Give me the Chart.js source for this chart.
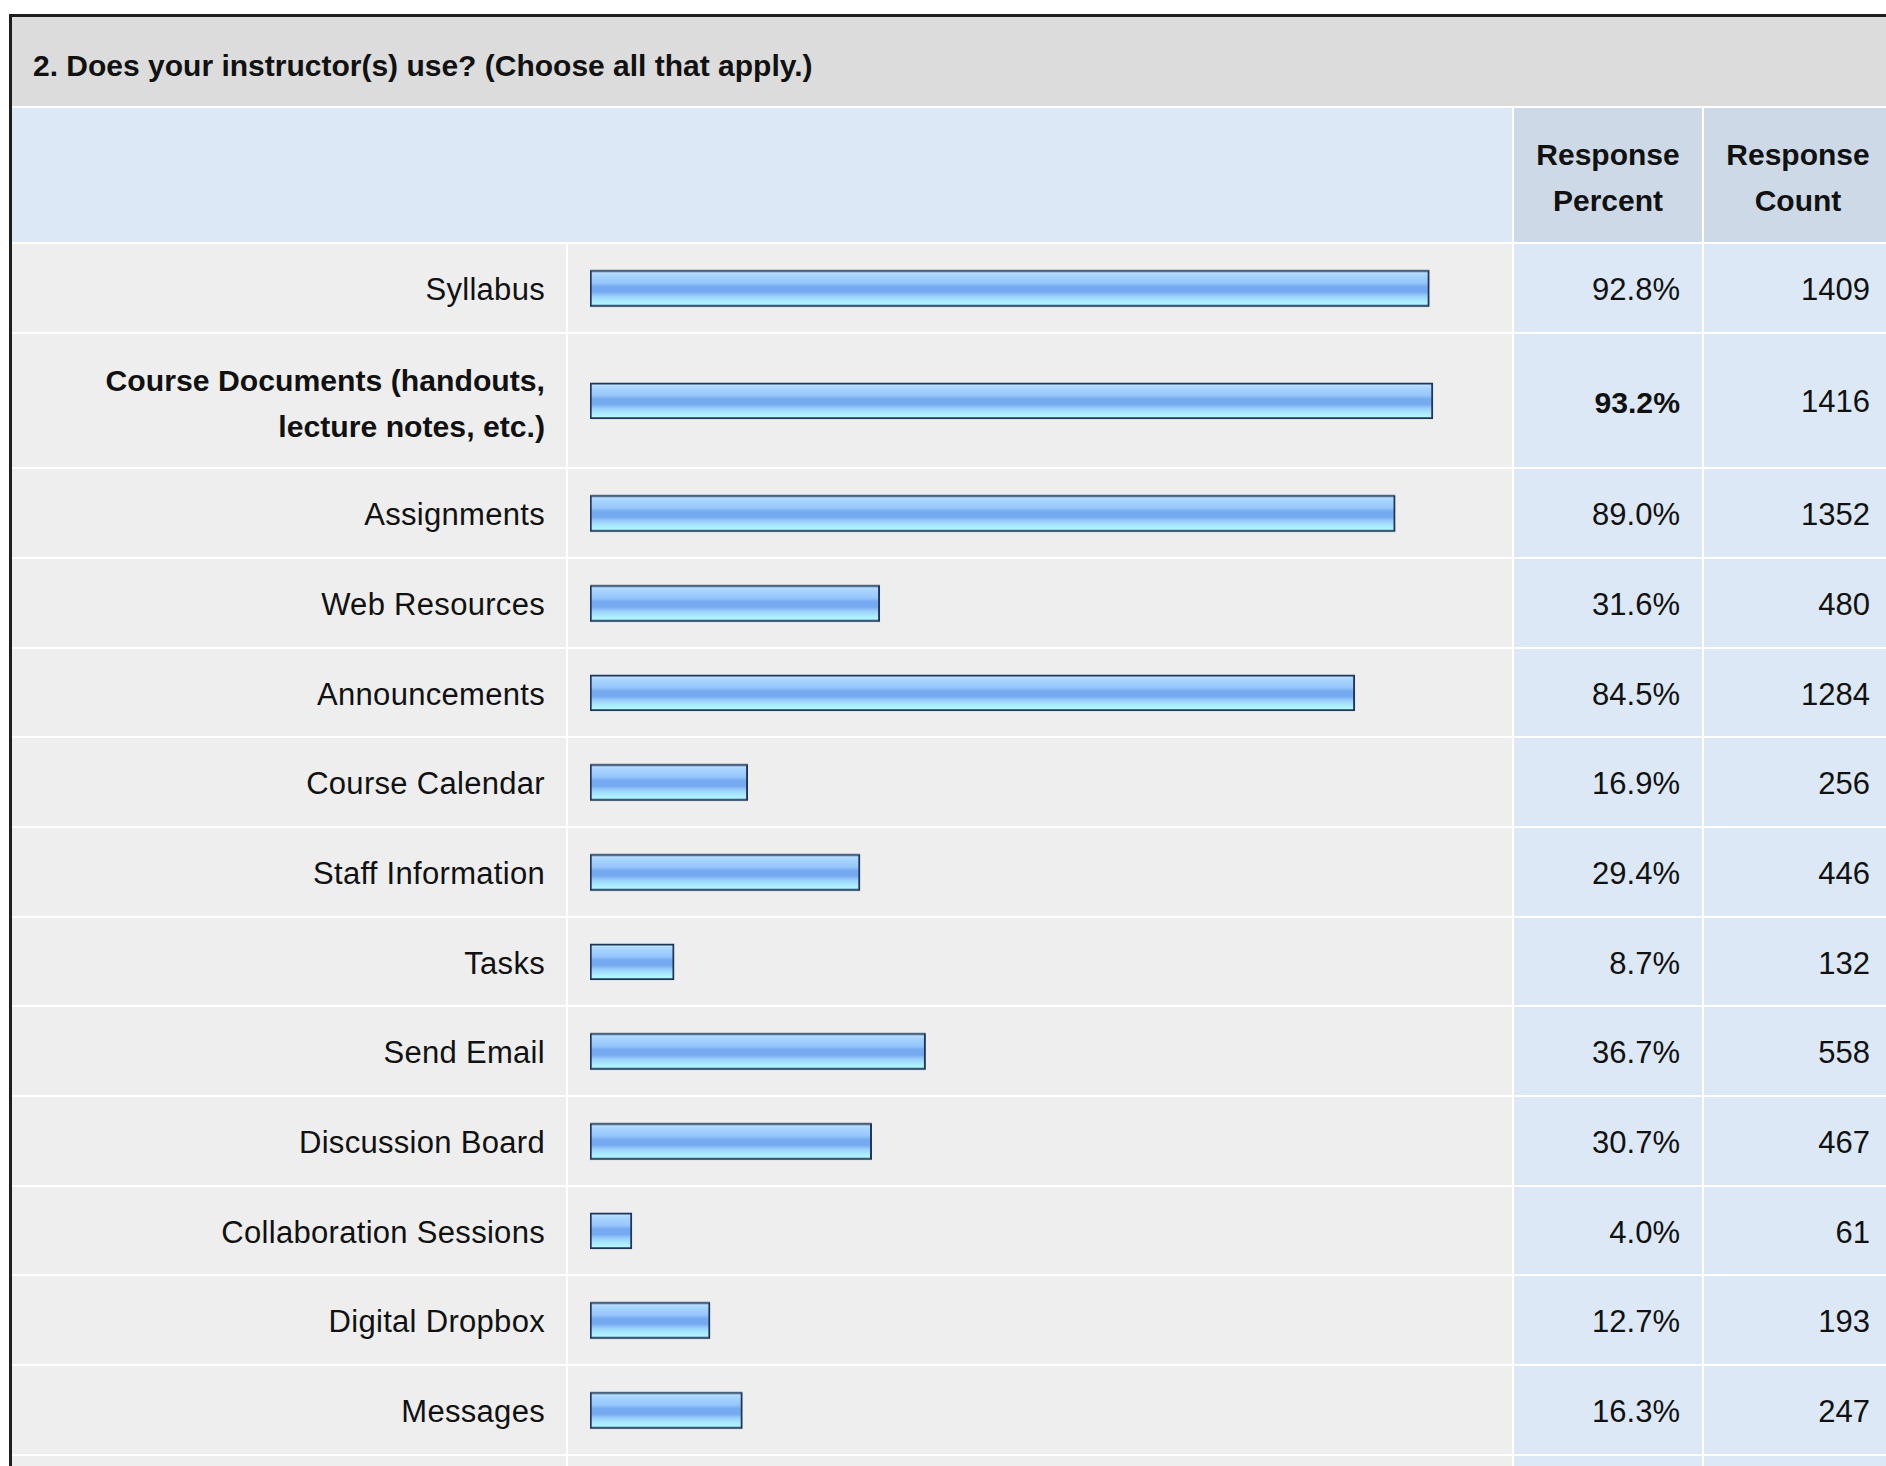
<!DOCTYPE html>
<html>
<head>
<meta charset="utf-8">
<script src="https://cdn.jsdelivr.net/npm/chart.js@4"></script>
<style>
	html, body { margin:0; padding:0; background:#fff; overflow:hidden; }
	body { font-family:"Liberation Sans", Arial, sans-serif; color:#111; }
	#box {
		position:absolute; left:9px; top:14px;
		border-left:3px solid #1e1e1e; border-top:3px solid #1e1e1e;
		display:grid;
		grid-template-columns:554px 944px 188px 188px;
		grid-auto-rows:minmax(87.7px, auto);
		gap:2px; background:#fff;
	}
	.title {
		grid-column:1 / 5; height:89px; box-sizing:border-box; background:#dcdcdc;
		font-weight:bold; font-size:30px; line-height:89px; padding:4px 0 0 21px;
	}
	.head { height:134px; background:#dce8f5; }
	.head.wide { grid-column:1 / 3; }
	.head.col { background:#cdd9e6; font-weight:bold; font-size:30px; line-height:46px;
		box-sizing:border-box; padding-top:5px;
		display:flex; align-items:center; justify-content:center; text-align:center; }
	.lab { background:#eeeeee; font-size:31px; line-height:46px; padding:22.8px 21px 18.8px 21px;
		letter-spacing:0.3px;
		box-sizing:border-box; display:flex; align-items:center; justify-content:flex-end; text-align:right; }
	.lab.bold { font-size:30.2px; letter-spacing:0; padding-top:24px; padding-bottom:17.6px; }
	.barcell { background:#eeeeee; position:relative; }
	.barcell .wrap { position:absolute; left:0; top:0; right:0; bottom:0; }
	.num { background:#dce8f5; font-size:31px; padding:4px 22px 0 0; box-sizing:border-box;
		display:flex; align-items:center; justify-content:flex-end; }
	.num.bold { font-size:30.2px; padding-top:6px; }
	.bold { font-weight:bold; }
</style>
</head>
<body>
<div id="box"></div>
<script>
	// 항목 / 응답 비율 / 응답 수
	const categories = ['Syllabus', 'Course Documents (handouts, lecture notes, etc.)', 'Assignments',
		'Web Resources', 'Announcements', 'Course Calendar', 'Staff Information', 'Tasks',
		'Send Email', 'Discussion Board', 'Collaboration Sessions', 'Digital Dropbox', 'Messages'];
	const percents = [92.8, 93.2, 89.0, 31.6, 84.5, 16.9, 29.4, 8.7, 36.7, 30.7, 4.0, 12.7, 16.3];
	const counts = [1409, 1416, 1352, 480, 1284, 256, 446, 132, 558, 467, 61, 193, 247];
	const title = '2. Does your instructor(s) use? (Choose all that apply.)';
	const headers = ['Response<br>Percent', 'Response<br>Count'];

	const box = document.querySelector('#box');
	const maxPct = Math.max(...percents);
	// 0%여도 테두리만큼 보이도록 살짝 왼쪽에서 시작
	const barBase = -0.67;

	function cell(cls, html) {
		let d = document.createElement('div');
		d.className = cls;
		if (html !== undefined) d.innerHTML = html;
		box.appendChild(d);
		return d;
	}

	cell('title', title);
	cell('head wide');
	cell('head col', headers[0]);
	cell('head col', headers[1]);

	// 막대 그라데이션 (위 -> 아래)
	function barFill(ctx) {
		const chart = ctx.chart;
		const area = chart.chartArea;
		if (!area) return '#8fc0f8';
		const mid = (area.top + area.bottom) / 2;
		const g = chart.ctx.createLinearGradient(0, mid - 18, 0, mid + 18);
		g.addColorStop(0, '#c8e8ff');
		g.addColorStop(0.15, '#a8d4ff');
		g.addColorStop(0.35, '#96c6fb');
		g.addColorStop(0.45, '#76aaf0');
		g.addColorStop(0.6, '#76aaf0');
		g.addColorStop(0.7, '#98ccfb');
		g.addColorStop(0.82, '#a8e6ff');
		g.addColorStop(1, '#b8ffff');
		return g;
	}

	for (let i = 0; i < categories.length; i++) {
		const top = percents[i] === maxPct;
		cell('lab' + (top ? ' bold' : ''), categories[i]);
		const bc = cell('barcell');
		const wrap = document.createElement('div');
		wrap.className = 'wrap';
		bc.appendChild(wrap);
		const cv = document.createElement('canvas');
		wrap.appendChild(cv);
		cell('num' + (top ? ' bold' : ''), percents[i].toFixed(1) + '%');
		cell('num', counts[i]);

		new Chart(cv, {
			type: 'bar',
			data: {
				labels: [categories[i]],
				datasets: [{
					data: [percents[i]],
					base: barBase,
					backgroundColor: barFill,
					borderColor: '#1d3659',
					borderWidth: 2,
					borderSkipped: false,
					barThickness: 36
				}]
			},
			options: {
				indexAxis: 'y',
				responsive: true,
				maintainAspectRatio: false,
				animation: false,
				layout: { padding: { left: 22, right: 18, top: 0, bottom: 0 } },
				plugins: { legend: { display: false }, tooltip: { enabled: false } },
				scales: {
					x: { display: false, min: barBase, max: 100 },
					y: { display: false }
				}
			}
		});
	}

	// 아래 잘린 다음 행
	cell('lab', '');
	cell('barcell');
	cell('num', '');
	cell('num', '');
</script>
</body>
</html>
